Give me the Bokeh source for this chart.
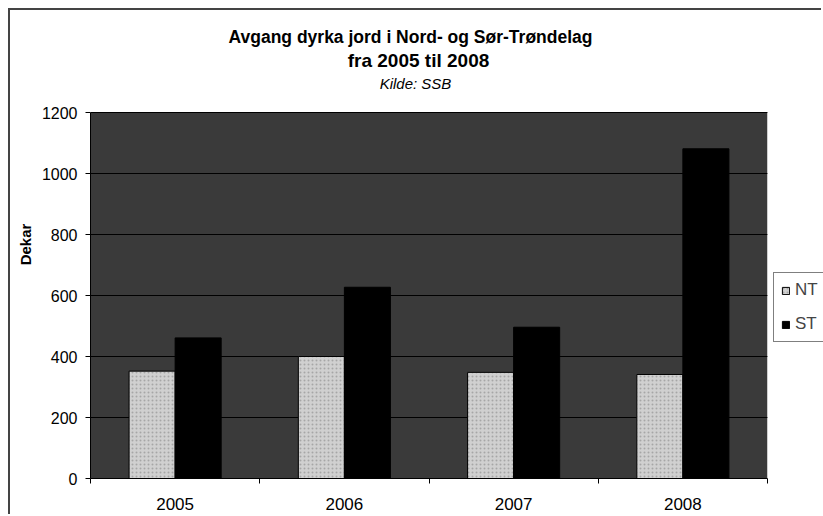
import numpy as np
from bokeh.plotting import figure
from bokeh.models import (Range1d, FixedTicker, Label, Legend, LegendItem,
                          ColumnDataSource)
from bokeh.embed import file_html
from bokeh.resources import INLINE

# ---- data ----
years = ["2005", "2006", "2007", "2008"]
nt_values = [352, 400, 348, 341]
st_values = [461, 627, 496, 1081]
series_names = ["NT", "ST"]
y_ticks = [0, 200, 400, 600, 800, 1000, 1200]
title_lines = ["Avgang dyrka jord i Nord- og Sør-Trøndelag", "fra 2005 til 2008"]
source_note = "Kilde: SSB"

FONT = "Liberation Sans"

n = len(years)
y_max = y_ticks[-1]
centers = np.arange(n) + 0.5
bw = 0.272

# layout (pixels, relative to the figure canvas)
W, H = 813, 506
FRAME_L, FRAME_B = 80, 38
PX_PER_CAT = 169.25
PX_PER_VAL = 366 / y_max
x_end = (W - FRAME_L) / PX_PER_CAT
y_end = (H - FRAME_B) / PX_PER_VAL


def tx(pic_x):
    return (pic_x - 10 - FRAME_L) / PX_PER_CAT


def ty(pic_y):
    return (H - FRAME_B - (pic_y - 10)) / PX_PER_VAL


p = figure(width=W, height=H, output_backend="svg", toolbar_location=None,
           x_range=Range1d(0, x_end), y_range=Range1d(0, y_end),
           min_border_left=FRAME_L, min_border_right=0, min_border_bottom=FRAME_B,
           min_border_top=0)
p.title = None
p.styles = {"margin-left": "8px", "margin-top": "8px",
            "border-left": "2px solid #444444", "border-top": "2px solid #444444"}
p.background_fill_color = "white"
p.border_fill_color = "white"
p.outline_line_color = None

# plot-area background (under the grid) and a mask right of the plot area
p.quad(left=[0], right=[n], bottom=[0], top=[y_max],
       fill_color="#3a3a3a", line_color=None, level="image")
p.quad(left=[n], right=[x_end], bottom=[-0.02 * y_max], top=[1.02 * y_max],
       fill_color="white", line_color=None)

src = ColumnDataSource(dict(x_nt=centers - bw / 2, x_st=centers + bw / 2,
                            nt=nt_values, st=st_values))
r_nt = p.vbar(x="x_nt", top="nt", width=bw, bottom=0, source=src,
              fill_color="#d0d0d0", line_color="black", line_width=1,
              hatch_pattern="dot", hatch_color="#8a8a8a", hatch_scale=4, hatch_alpha=0.6)
r_st = p.vbar(x="x_st", top="st", width=bw, bottom=0, source=src,
              fill_color="black", line_color="black", line_width=1)

# axes
p.yaxis.bounds = (0, y_max)
p.yaxis.ticker = FixedTicker(ticks=y_ticks)
p.yaxis.major_tick_in = 0
p.yaxis.major_tick_out = 5
p.yaxis.minor_tick_line_color = None
p.yaxis.major_label_standoff = 8
p.yaxis.axis_label = "Dekar"
p.yaxis.axis_label_text_font = FONT
p.yaxis.axis_label_text_font_style = "bold"
p.yaxis.axis_label_text_font_size = "15px"
p.yaxis.axis_label_text_color = "black"
p.yaxis.axis_label_standoff = 5
p.yaxis.major_label_text_font = FONT
p.yaxis.major_label_text_font_size = "16px"
p.yaxis.major_label_text_color = "black"
p.yaxis.axis_line_color = "black"

p.xaxis.bounds = (0, n)
p.xaxis.ticker = FixedTicker(ticks=list(centers), minor_ticks=list(range(n + 1)))
p.xaxis.major_label_overrides = {float(c): y for c, y in zip(centers, years)}
p.xaxis.major_tick_line_color = None
p.xaxis.minor_tick_in = 0
p.xaxis.minor_tick_out = 5
p.xaxis.minor_tick_line_color = "black"
p.xaxis.major_label_standoff = 13
p.xaxis.major_label_text_font = FONT
p.xaxis.major_label_text_font_size = "17px"
p.xaxis.major_label_text_color = "black"
p.xaxis.axis_line_color = "black"

p.xgrid.grid_line_color = None
p.ygrid.ticker = FixedTicker(ticks=y_ticks)
p.ygrid.grid_line_color = "black"
p.ygrid.grid_line_width = 1

# titles
p.add_layout(Label(x=tx(410), y=ty(36), text=title_lines[0],
                   text_font=FONT, text_font_size="17.5px", text_font_style="bold",
                   text_color="black", text_align="center", text_baseline="middle"))
p.add_layout(Label(x=tx(418), y=ty(59.5), text=title_lines[1],
                   text_font=FONT, text_font_size="19px", text_font_style="bold",
                   text_color="black", text_align="center", text_baseline="middle"))
p.add_layout(Label(x=tx(415), y=ty(82.5), text=source_note,
                   text_font=FONT, text_font_size="15px", text_font_style="italic",
                   text_color="black", text_align="center", text_baseline="middle"))

legend = Legend(items=[LegendItem(label=series_names[0], renderers=[r_nt]),
                       LegendItem(label=series_names[1], renderers=[r_st])],
                location=(683, 136), orientation="vertical",
                label_text_font=FONT, label_text_font_size="17px",
                glyph_width=9, glyph_height=9, label_standoff=5,
                padding=7, spacing=14, margin=0,
                border_line_color="black", background_fill_color="white",
                background_fill_alpha=1)
p.add_layout(legend, "center")

open("out.html", "w").write(file_html(p, INLINE))
